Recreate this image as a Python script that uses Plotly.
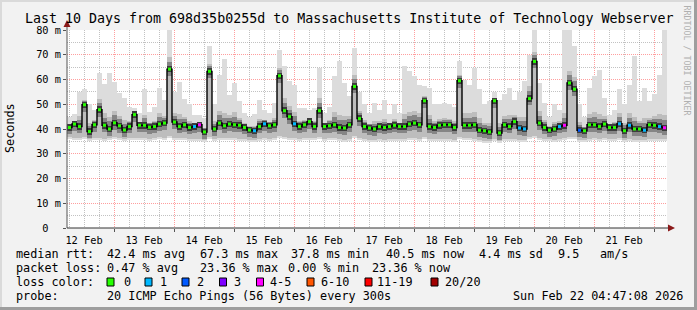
import plotly.graph_objects as go
import pandas as pd

# ---------------- data ----------------
title = "Last 10 Days from 698d35b0255d to Massachusetts Institute of Technology Webserver"
start = pd.Timestamp("2026-02-12 05:12")
step_hours = 2

median_ms = [
    40.6, 42.0, 41.0, 49.8, 39.0, 41.7, 47.8, 41.5, 40.0, 42.5,
    41.3, 39.6, 41.0, 45.8, 41.5, 41.5, 40.7, 41.0, 42.0, 42.4,
    64.2, 42.8, 41.0, 41.7, 40.6, 41.0, 41.7, 38.8, 63.3, 40.0,
    42.4, 41.3, 42.0, 41.7, 41.5, 40.6, 39.6, 39.3, 41.0, 42.1,
    41.3, 41.7, 61.5, 47.4, 45.0, 42.1, 41.0, 41.7, 43.0, 41.0,
    47.4, 41.0, 41.3, 41.7, 40.6, 40.4, 41.7, 57.2, 44.2, 41.0,
    40.4, 40.0, 41.0, 40.6, 41.0, 41.5, 41.0, 41.0, 42.0, 42.4,
    41.7, 51.4, 41.0, 40.6, 41.5, 41.7, 41.7, 40.6, 59.5, 41.5,
    41.5, 41.7, 39.5, 39.3, 38.8, 51.4, 38.4, 41.7, 41.0, 43.0,
    40.4, 40.0, 52.3, 67.3, 42.4, 40.6, 39.5, 40.0, 41.0, 41.5,
    58.6, 56.1, 39.5, 39.3, 41.7, 41.7, 41.0, 42.0, 40.6, 40.6,
    42.1, 39.3, 41.5, 40.0, 40.0, 39.5, 41.7, 41.5, 41.0, 40.5,
]
max_ms = [
    45.0, 46.0, 55.0, 56.0, 50.0, 47.8, 62.6, 58.0, 62.6, 59.0,
    54.4, 52.4, 49.0, 48.5, 46.4, 56.0, 47.0, 49.0, 56.5, 51.8,
    80.0, 55.0, 59.0, 52.0, 50.0, 45.8, 45.8, 44.4, 73.6, 50.2,
    62.0, 68.2, 53.9, 58.6, 51.2, 46.4, 45.0, 46.0, 51.8, 47.8,
    46.4, 50.5, 72.0, 65.3, 59.2, 57.9, 48.5, 48.5, 47.8, 48.5,
    64.6, 46.4, 49.0, 61.3, 67.4, 58.6, 53.2, 72.7, 55.0, 50.0,
    46.4, 50.5, 47.8, 51.8, 46.0, 50.0, 46.4, 65.3, 63.3, 61.3,
    57.9, 57.2, 56.5, 50.0, 50.0, 50.5, 50.0, 49.0, 67.3, 60.0,
    57.9, 64.6, 56.0, 50.0, 51.2, 55.0, 51.8, 54.0, 56.5, 51.8,
    55.0, 59.2, 70.0, 80.0, 58.6, 50.5, 45.0, 50.0, 47.8, 80.0,
    80.0, 73.4, 50.0, 45.0, 56.5, 61.3, 64.0, 52.4, 45.8, 47.8,
    56.0, 50.0, 57.9, 69.3, 51.2, 56.5, 51.2, 54.0, 62.0, 80.0,
]
min_ms = [
    35.8, 35.5, 35.6, 36.0, 35.0, 35.4, 35.6, 35.2, 35.5, 35.8,
    35.6, 35.2, 35.5, 35.7, 35.4, 35.6, 35.3, 35.5, 35.8, 35.6,
    36.2, 35.6, 35.4, 35.6, 35.2, 35.0, 35.2, 34.8, 36.0, 35.2,
    35.6, 35.4, 35.7, 35.5, 35.3, 35.2, 34.8, 34.6, 35.2, 35.5,
    35.3, 35.5, 36.5, 35.8, 35.6, 35.4, 35.2, 35.5, 35.6, 35.4,
    36.0, 35.3, 35.4, 35.5, 35.0, 34.8, 35.2, 36.5, 35.5, 35.0,
    34.8, 34.6, 35.0, 34.8, 35.0, 35.2, 35.0, 35.2, 35.4, 35.5,
    35.3, 36.0, 35.2, 35.0, 35.2, 35.3, 35.2, 34.9, 36.0, 35.4,
    35.4, 35.2, 34.6, 34.4, 34.2, 35.0, 34.2, 35.0, 35.0, 35.2,
    34.8, 34.6, 35.8, 36.5, 35.4, 35.0, 35.2, 34.8, 35.2, 35.4,
    36.0, 35.8, 34.8, 34.6, 35.2, 35.4, 35.2, 35.4, 35.0, 35.0,
    35.4, 34.8, 35.2, 34.8, 34.8, 34.6, 35.2, 35.0, 35.2, 35.0,
]
# index into loss_labels
loss_class = [
    0, 0, 0, 0, 0, 0, 0, 0, 0, 0,
    0, 0, 0, 0, 0, 0, 0, 0, 0, 0,
    0, 0, 0, 0, 0, 1, 4, 0, 0, 0,
    0, 0, 0, 0, 0, 0, 0, 1, 0, 1,
    0, 0, 0, 0, 0, 1, 0, 0, 0, 0,
    0, 0, 0, 0, 0, 0, 0, 0, 0, 0,
    0, 0, 0, 0, 0, 0, 0, 0, 0, 0,
    0, 0, 0, 0, 0, 0, 0, 0, 0, 0,
    0, 0, 0, 0, 0, 0, 0, 0, 0, 0,
    1, 1, 0, 0, 0, 0, 0, 0, 1, 4,
    0, 0, 2, 0, 0, 0, 0, 0, 0, 0,
    1, 0, 1, 0, 0, 1, 0, 0, 1, 4,
]
loss_labels = ["0", "1", "2", "3", "4-5", "6-10", "11-19", "20/20"]
loss_colors = ["#26ff00", "#00b8ff", "#0059ff", "#7e00ff", "#ff00ff", "#ff5500", "#ff0000", "#a10000"]

y_tick_vals = [0, 10, 20, 30, 40, 50, 60, 70, 80]
y_tick_text = ["0\u00a0\u00a0", "10 m", "20 m", "30 m", "40 m", "50 m", "60 m", "70 m", "80 m"]

stats_rtt = [("median rtt:", 16), ("42.4 ms avg", 107), ("67.3 ms max", 199.5), ("37.8 ms min", 291),
             ("40.5 ms now", 386), ("4.4 ms sd", 478.5), ("9.5", 557.5), ("am/s", 599.5)]
stats_loss = [("packet loss:", 16), ("0.47 % avg", 107), ("23.36 % max", 199.5), ("0.00 % min", 287.5),
              ("23.36 % now", 372)]
probe_text = "20 ICMP Echo Pings (56 Bytes) every 300s"
stamp_text = "Sun Feb 22 04:47:08 2026"

# ---------------- geometry / style ----------------
W, H = 697, 310
PL, PR, PT, PB = 67, 667, 30, 228
MONO = "DejaVu Sans Mono"


def X(px):
    return (px - PL) / (PR - PL)


def Y(py):
    return (PB - py) / (PB - PT)


n = len(median_ms)
times = [start + pd.Timedelta(hours=(i + 0.5) * step_hours) for i in range(n)]
end = start + pd.Timedelta(hours=step_hours * n)
step_ms = step_hours * 3600 * 1000

fig = go.Figure()


def layer(lower, upper, color):
    fig.add_trace(go.Bar(
        x=times, base=lower, y=[max(u - l, 0) for u, l in zip(upper, lower)],
        width=step_ms, marker=dict(color=color, line=dict(width=0)),
        hoverinfo="skip", showlegend=False))


# smoke layers (lightest outermost)
layer(min_ms, max_ms, "#DCDCDC")
layer([l + 0.8 for l in min_ms],
      [m + min(0.3 * (t - m), 5.0) for m, t in zip(median_ms, max_ms)], "#BDBDBD")
layer([m - 2.8 for m in median_ms],
      [m + min(0.15 * (t - m), 2.5) + 0.6 for m, t in zip(median_ms, max_ms)], "#858585")
layer([m - 1.3 for m in median_ms], [m + 1.3 for m in median_ms], "#3C3C3C")

# median line
fig.add_trace(go.Scatter(x=times, y=median_ms, mode="lines",
                         line=dict(color="#000000", width=1.4, shape="hvh"),
                         hoverinfo="skip", showlegend=False))
fig.add_trace(go.Scatter(x=times, y=median_ms, mode="markers",
                         marker=dict(symbol="square", size=3,
                                     color=[loss_colors[c] for c in loss_class],
                                     line=dict(width=0)),
                         hoverinfo="skip", showlegend=False))

major_grid = "rgba(255,0,0,0.38)"
minor_grid = "rgba(120,120,120,0.45)"

fig.update_layout(
    width=W, height=H,
    margin=dict(l=PL, r=W - PR, t=PT, b=H - PB, pad=0),
    paper_bgcolor="#F2F2F2", plot_bgcolor="#FFFFFF",
    barmode="overlay", bargap=0, showlegend=False,
    xaxis=dict(
        type="date", range=[start, end],
        tick0="2026-02-12 00:00", dtick=86400000,
        ticklabelmode="period", tickformat="%d %b",
        showgrid=True, gridcolor=major_grid, griddash="1px,1px", gridwidth=1,
        ticks="outside", ticklen=3, tickcolor="#555555", tickwidth=1,
        minor=dict(tickmode="linear", tick0="2026-02-12 00:00", dtick=6 * 3600000,
                   showgrid=True, gridcolor=minor_grid, griddash="1px,1px", ticks=""),
        showline=False, zeroline=False,
        tickfont=dict(family=MONO, size=10.3, color="#000000"),
    ),
    yaxis=dict(
        range=[0, 80], tickmode="array", tickvals=y_tick_vals, ticktext=y_tick_text,
        showgrid=True, gridcolor=major_grid, griddash="1px,1px", gridwidth=1,
        ticks="outside", ticklen=3, tickcolor="#555555", tickwidth=1,
        minor=dict(tickmode="array", tickvals=[5, 15, 25, 35, 45, 55, 65, 75],
                   showgrid=True, gridcolor=minor_grid, griddash="1px,1px", ticks=""),
        showline=False, zeroline=False,
        tickfont=dict(family=MONO, size=10.3, color="#000000"),
    ),
)

shapes = []
# frame shading
shapes.append(dict(type="rect", xref="paper", yref="paper", x0=X(0), x1=X(W), y0=Y(0), y1=Y(2),
                   fillcolor="#DADADA", line=dict(width=0), layer="below"))
shapes.append(dict(type="rect", xref="paper", yref="paper", x0=X(0), x1=X(2), y0=Y(0), y1=Y(H),
                   fillcolor="#DADADA", line=dict(width=0), layer="below"))
shapes.append(dict(type="rect", xref="paper", yref="paper", x0=X(W - 3), x1=X(W), y0=Y(0), y1=Y(H),
                   fillcolor="#9E9E9E", line=dict(width=0)))
shapes.append(dict(type="rect", xref="paper", yref="paper", x0=X(0), x1=X(W), y0=Y(H - 3), y1=Y(H),
                   fillcolor="#9E9E9E", line=dict(width=0)))
# axis lines + arrows
shapes.append(dict(type="line", xref="paper", yref="paper", x0=X(PL), x1=X(PL), y0=Y(PB), y1=Y(24),
                   line=dict(color="#555555", width=1)))
shapes.append(dict(type="line", xref="paper", yref="paper", x0=X(PL), x1=X(670), y0=Y(PB), y1=Y(PB),
                   line=dict(color="#333333", width=1)))
shapes.append(dict(type="path", xref="paper", yref="paper",
                   path=f"M {X(PL - 3.5)} {Y(27)} L {X(PL)} {Y(20)} L {X(PL + 3.5)} {Y(27)} Z",
                   fillcolor="#8B1A1A", line=dict(width=0)))
shapes.append(dict(type="path", xref="paper", yref="paper",
                   path=f"M {X(668)} {Y(PB - 3.5)} L {X(675)} {Y(PB)} L {X(668)} {Y(PB + 3.5)} Z",
                   fillcolor="#8B1A1A", line=dict(width=0)))

annotations = []


def text(s, xpx, ypx, size=11.8, color="#000000", xanchor="left", angle=0):
    annotations.append(dict(text=s.replace(" ", "\u00a0"), x=X(xpx), y=Y(ypx), xref="paper", yref="paper",
                            xanchor=xanchor, yanchor="middle", showarrow=False, textangle=angle,
                            borderpad=0, borderwidth=0,
                            font=dict(family=MONO, size=size, color=color)))


text(title, 348.5, 18.5, size=13.3, xanchor="center")
text("Seconds", 10, 128, angle=-90, xanchor="center")
text("RRDTOOL / TOBI OETIKER", 686.5, 60, size=8.3, color="#B0B0B0", xanchor="center", angle=90)

row_y = [254, 268, 282, 296]
for s, xp in stats_rtt:
    text(s, xp, row_y[0])
for s, xp in stats_loss:
    text(s, xp, row_y[1])
text("loss color:", 16, row_y[2])
box_x = [107, 145, 182, 219.5, 256.5, 307, 365, 431]
label_x = [123.5, 159.5, 196.5, 233.5, 270, 321, 377, 444.5]
for lab, col, bx, lx in zip(loss_labels, loss_colors, box_x, label_x):
    shapes.append(dict(type="rect", xref="paper", yref="paper", x0=X(bx), x1=X(bx + 7),
                       y0=Y(row_y[2] - 4), y1=Y(row_y[2] + 4),
                       fillcolor=col, line=dict(color="#000000", width=1)))
    text(lab, lx, row_y[2])
text("probe:", 16, row_y[3])
text(probe_text, 107, row_y[3])
text(stamp_text, 513, row_y[3])

fig.update_layout(shapes=shapes, annotations=annotations)
fig.write_html("out.html")
